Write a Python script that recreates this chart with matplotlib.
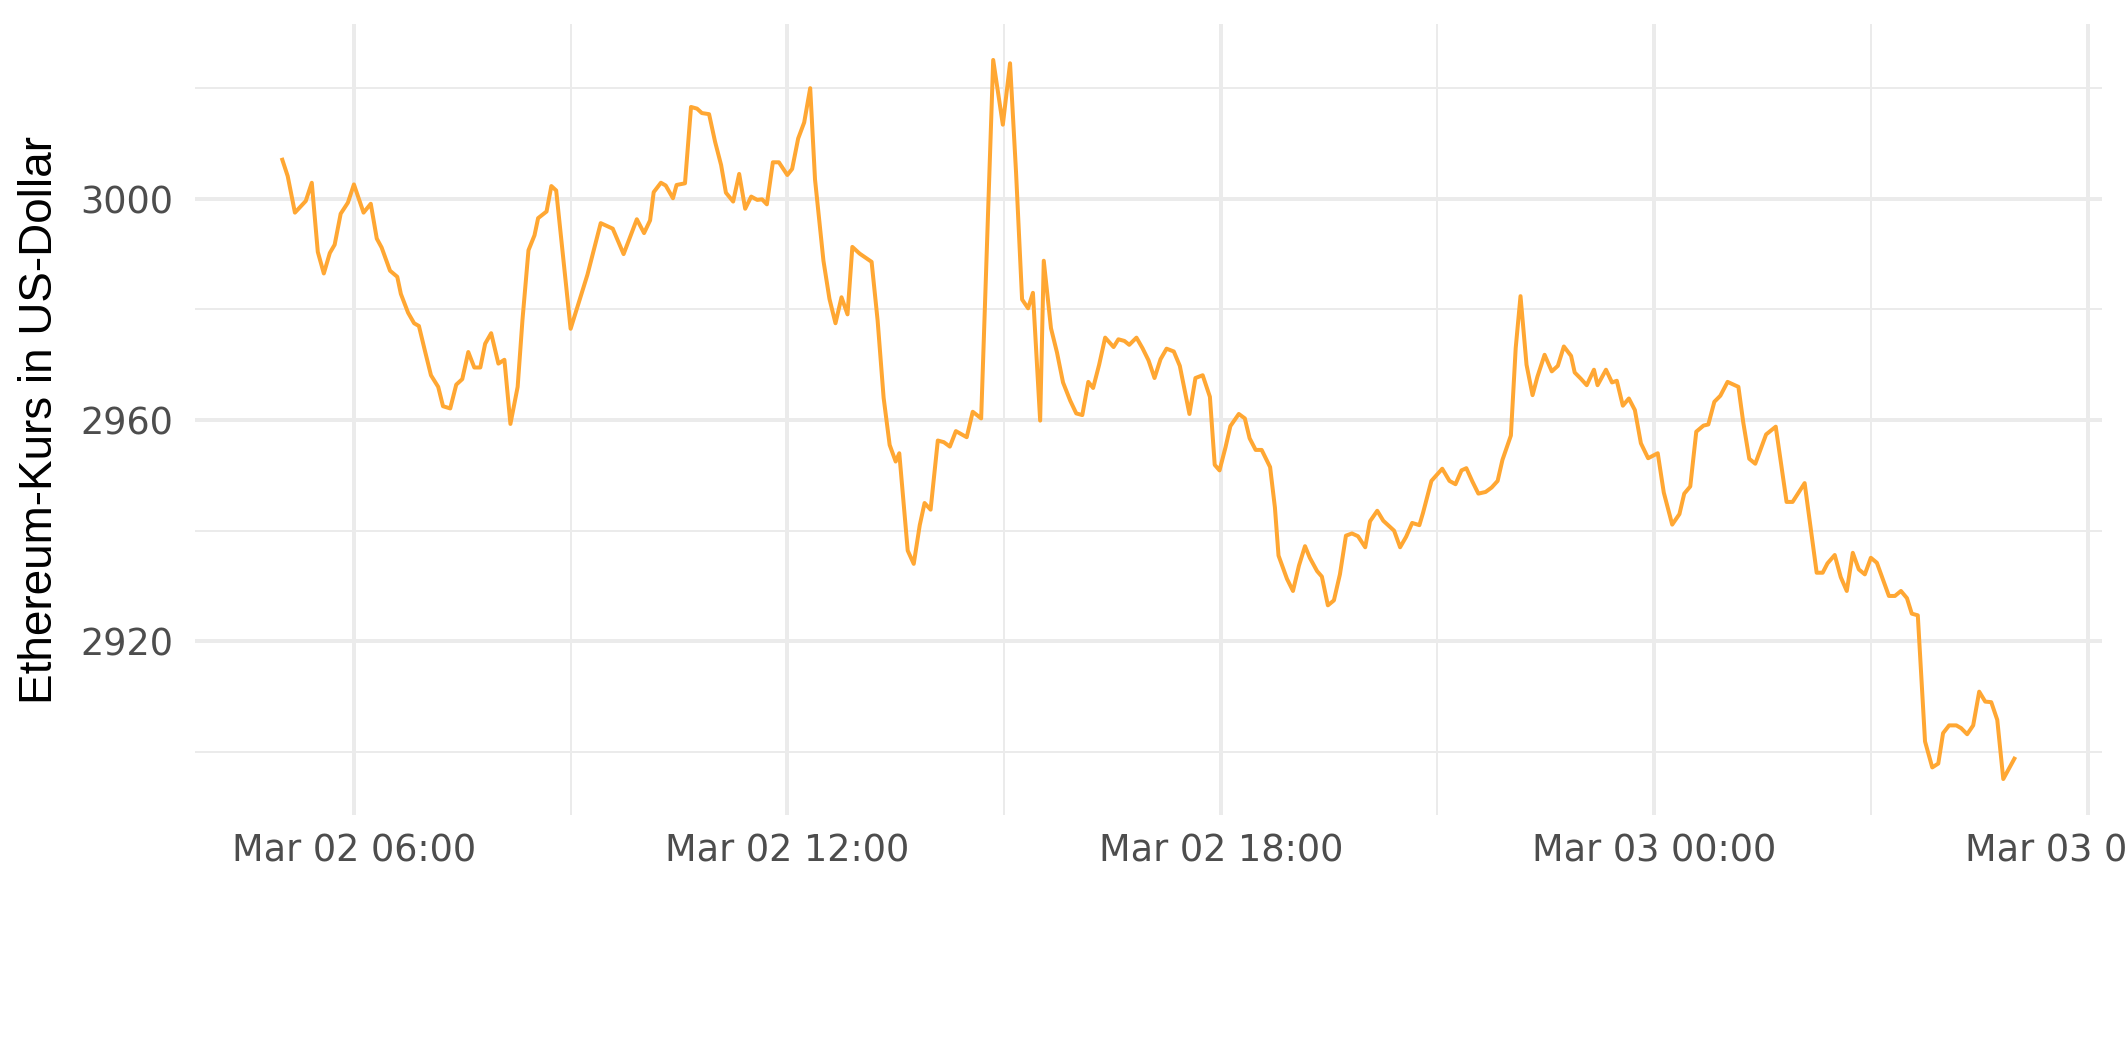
import matplotlib
matplotlib.use("Agg")
import matplotlib.pyplot as plt
import matplotlib.dates as mdates
from matplotlib.ticker import MultipleLocator
import pandas as pd

# Ethereum price, Mar 02 05:00 -> Mar 03 05:00 (minutes after start)
start = pd.Timestamp("2022-03-02 05:00")

minuten = [
    0, 5, 11, 20, 25, 30, 35, 40, 44, 49, 55,
    60, 68, 74, 79, 83, 90, 96, 99, 105, 110, 114, 119,
    124, 130, 134, 140, 145, 150, 155, 160, 165, 169, 174, 180,
    185, 190, 196, 200, 205, 210, 213, 220, 224, 228, 240,
    254, 265, 275, 284, 295, 301, 306, 309, 315, 319, 325, 328, 335,
    340, 345, 349, 355, 360, 365, 369, 375, 380, 385, 390, 395, 399,
    403, 408, 413, 420, 424, 429, 434, 439, 443, 450, 455, 460, 465, 470, 474,
    480, 490, 495, 500, 505, 510, 513, 520, 525, 530, 534, 539,
    545, 550, 555, 560, 569, 574, 581, 591, 599, 605, 610, 615, 620, 624,
    630, 633, 639, 644, 649, 655, 660, 665, 670, 674, 679, 684, 691, 695,
    700, 704, 710, 715, 720, 725, 730, 735, 741, 746, 754, 759, 765, 771, 775, 779,
    784, 788, 795, 800, 804, 809, 814, 821, 825, 828, 835, 840, 845, 850, 854,
    860, 864, 869, 874, 879, 884, 889, 894, 900, 904, 910, 915, 919, 924, 929, 934, 939,
    945, 948, 955, 964, 970, 975, 980, 984, 989, 994, 1000, 1005, 1010, 1014,
    1021, 1025, 1029, 1034, 1039, 1043, 1049, 1055, 1060, 1065, 1071, 1074, 1079,
    1084, 1090, 1093, 1100, 1105, 1109, 1114, 1119, 1124, 1129, 1135, 1143, 1148,
    1155, 1161, 1165, 1170, 1175, 1181, 1185, 1190, 1195, 1201, 1210, 1214, 1219,
    1224, 1233, 1241, 1250, 1255, 1265, 1275, 1280, 1284, 1290, 1295, 1300, 1305,
    1310, 1315, 1320, 1325, 1330, 1335, 1340, 1345, 1350, 1354, 1359, 1365, 1371,
    1376, 1380, 1385, 1391, 1395, 1400, 1405, 1410, 1415, 1420, 1425, 1430, 1440,
]

kurs = [
    3007.4, 3004.1, 2997.5, 2999.6, 3002.9, 2990.4, 2986.5, 2990.2, 2991.7, 2997.3, 2999.3,
    3002.6, 2997.5, 2999.1, 2992.8, 2991.2, 2987.0, 2985.9, 2982.8, 2979.4, 2977.5, 2977.0, 2972.5,
    2968.1, 2966.0, 2962.5, 2962.1, 2966.4, 2967.4, 2972.3, 2969.5, 2969.5, 2973.8, 2975.7, 2970.2,
    2970.9, 2959.3, 2966.0, 2978.1, 2990.7, 2993.4, 2996.5, 2997.7, 3002.3, 3001.5, 2976.5,
    2986.3, 2995.6, 2994.6, 2990.0, 2996.3, 2993.8, 2996.1, 3001.2, 3002.9, 3002.4, 3000.1, 3002.5, 3002.8,
    3016.6, 3016.3, 3015.5, 3015.3, 3010.3, 3006.1, 3001.1, 2999.5, 3004.5, 2998.2, 3000.4, 2999.8, 2999.9,
    2999.0, 3006.6, 3006.6, 3004.3, 3005.4, 3010.9, 3013.8, 3020.0, 3003.5, 2988.8, 2981.9, 2977.5, 2982.2, 2979.1, 2991.3,
    2990.1, 2988.6, 2978.0, 2964.0, 2955.5, 2952.5, 2954.0, 2936.4, 2934.0, 2941.0, 2945.0, 2943.8,
    2956.3, 2956.0, 2955.2, 2958.0, 2956.9, 2961.5, 2960.3, 3025.1, 3013.4, 3024.5, 3004.7, 2981.8, 2980.2, 2983.0,
    2959.9, 2988.8, 2976.6, 2972.2, 2966.8, 2963.5, 2961.2, 2960.9, 2966.9, 2965.8, 2970.0, 2974.9, 2973.2, 2974.6,
    2974.3, 2973.6, 2974.9, 2973.0, 2970.8, 2967.6, 2971.0, 2972.9, 2972.4, 2969.8, 2961.1, 2967.6, 2968.1, 2964.2, 2951.9, 2950.9,
    2955.1, 2958.9, 2961.1, 2960.3, 2956.7, 2954.6, 2954.6, 2951.5, 2944.2, 2935.5, 2931.3, 2929.1, 2933.7, 2937.2, 2935.1,
    2932.7, 2931.7, 2926.5, 2927.4, 2932.1, 2939.1, 2939.5, 2939.0, 2937.0, 2941.7, 2943.6, 2941.8, 2941.0, 2940.0, 2937.0, 2938.9, 2941.4,
    2941.0, 2943.2, 2949.0, 2951.2, 2949.0, 2948.4, 2950.9, 2951.3, 2948.9, 2946.7, 2947.0, 2947.8, 2949.0, 2952.8,
    2957.2, 2973.0, 2982.4, 2970.0, 2964.5, 2967.8, 2971.8, 2968.8, 2969.8, 2973.3, 2971.6, 2968.6, 2967.5,
    2966.3, 2969.1, 2966.3, 2969.1, 2966.8, 2967.1, 2962.6, 2963.9, 2961.8, 2955.8, 2953.1, 2954.0, 2946.9,
    2941.1, 2943.0, 2946.7, 2948.0, 2957.9, 2959.0, 2959.2, 2963.3, 2964.4, 2966.9, 2966.0, 2959.6, 2953.0,
    2952.1, 2957.4, 2958.8, 2945.2, 2945.2, 2948.6, 2932.4, 2932.4, 2934.1, 2935.6, 2931.6, 2929.1, 2936.0,
    2933.0, 2932.1, 2935.1, 2934.2, 2931.2, 2928.2, 2928.2, 2929.1, 2927.8, 2925.0, 2924.7, 2901.9, 2897.2,
    2897.9, 2903.4, 2904.8, 2904.8, 2904.3, 2903.2, 2904.8, 2910.9, 2909.1, 2909.0, 2905.8, 2895.1, 2899.1,
]

zeit = start + pd.to_timedelta(minuten, unit="min")

W, H = 2125, 1062
fig = plt.figure(figsize=(W / 300, H / 300), dpi=300)
# panel position in pixels: left 195, right 2102, top 24, bottom 815
ax = fig.add_axes([195 / W, 1 - 815 / H, (2102 - 195) / W, (815 - 24) / H])

ax.plot(zeit, kurs, color="#FFA733", lw=0.96, solid_capstyle="butt")

# ggplot style 5% expansion
t0, t1 = zeit.min(), zeit.max()
ax.set_xlim(t0 - 0.05 * (t1 - t0), t1 + 0.05 * (t1 - t0))
lo, hi = min(kurs), max(kurs)
ax.set_ylim(lo - 0.05 * (hi - lo), hi + 0.05 * (hi - lo))

ax.xaxis.set_major_locator(mdates.HourLocator(byhour=[0, 6, 12, 18]))
ax.xaxis.set_minor_locator(mdates.HourLocator(byhour=[3, 9, 15, 21]))
ax.xaxis.set_major_formatter(mdates.DateFormatter("%b %d %H:%M"))
ax.yaxis.set_major_locator(MultipleLocator(40))
ax.yaxis.set_minor_locator(MultipleLocator(20))

ax.set_axisbelow(True)
ax.grid(which="major", color="#EBEBEB", lw=0.96)
ax.grid(which="minor", color="#EBEBEB", lw=0.48)
for s in ax.spines.values():
    s.set_visible(False)

ax.tick_params(which="both", length=0)
ax.tick_params(axis="x", labelsize=8.8, labelcolor="#4D4D4D", pad=4.2)
ax.tick_params(axis="y", labelsize=8.8, labelcolor="#4D4D4D", pad=5.3)

ax.set_ylabel("Ethereum-Kurs in US-Dollar", fontsize=11, family="Liberation Sans",
              color="black", va="center")
ax.yaxis.set_label_coords((40 - 195) / (2102 - 195), 0.5)

fig.savefig("out.png", dpi=300)
